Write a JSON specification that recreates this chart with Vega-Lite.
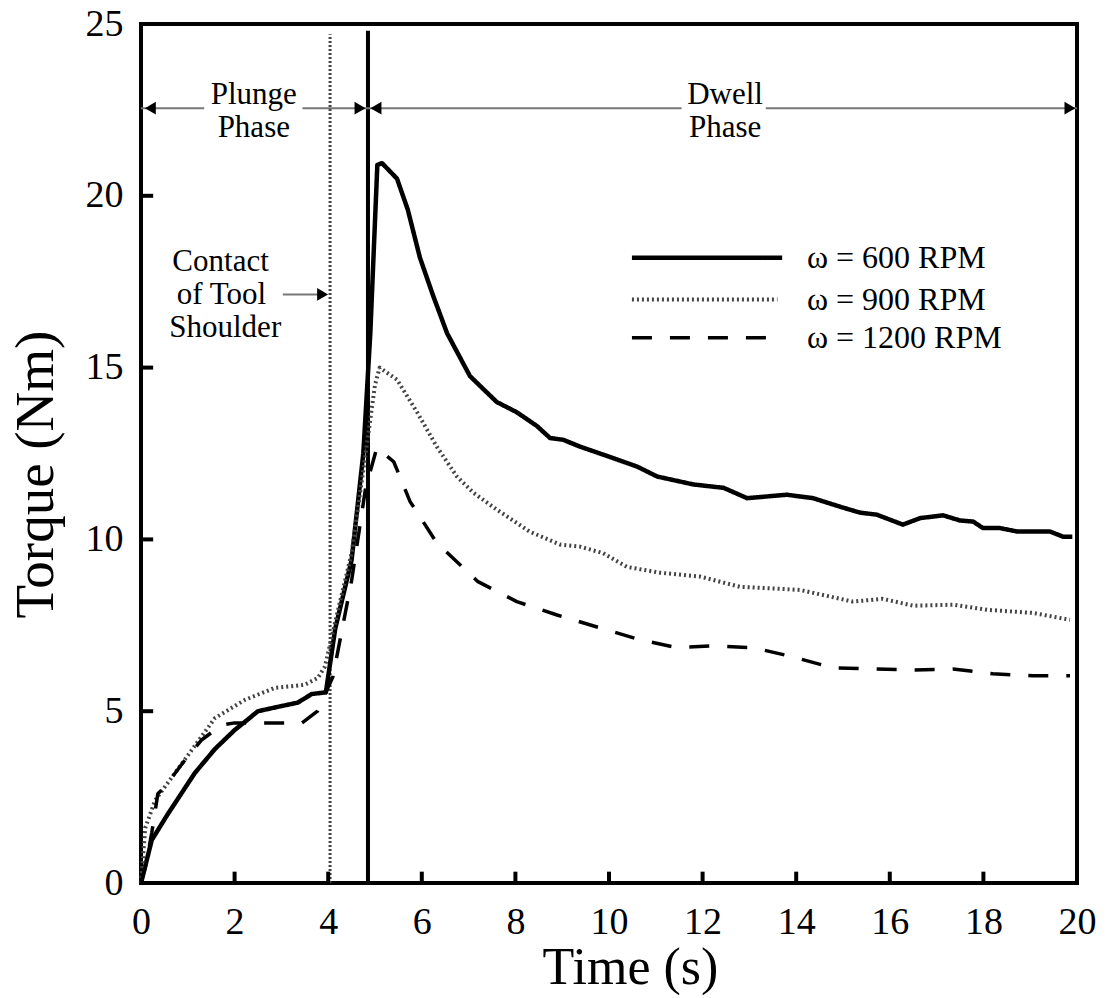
{
  "$schema": "https://vega.github.io/schema/vega-lite/v6.json",
  "width": 936,
  "height": 859,
  "autosize": {"type": "none"},
  "padding": {"left": 141, "top": 24, "right": 31, "bottom": 115},
  "background": "white",
  "config": {
    "view": {"stroke": "black", "strokeWidth": 4},
    "font": "Liberation Serif",
    "axis": {
      "labelFont": "Liberation Serif",
      "titleFont": "Liberation Serif",
      "labelColor": "black",
      "titleColor": "black",
      "titleFontWeight": "normal",
      "grid": false,
      "domain": false,
      "ticks": false,
      "labelFontSize": 38
    }
  },
  "datasets": {
    "curves": [
      {"s": "600", "t": 0, "v": 0}, {"s": "600", "t": 0.23, "v": 1.25}, {"s": "600", "t": 0.57, "v": 2.0}, {"s": "600", "t": 1.15, "v": 3.2}, {"s": "600", "t": 1.58, "v": 3.9}, {"s": "600", "t": 2.0, "v": 4.45}, {"s": "600", "t": 2.5, "v": 5.0}, {"s": "600", "t": 2.9, "v": 5.12}, {"s": "600", "t": 3.35, "v": 5.25}, {"s": "600", "t": 3.65, "v": 5.5}, {"s": "600", "t": 3.95, "v": 5.55}, {"s": "600", "t": 4.15, "v": 7.4}, {"s": "600", "t": 4.5, "v": 9.4}, {"s": "600", "t": 4.75, "v": 12.5}, {"s": "600", "t": 4.9, "v": 16.0}, {"s": "600", "t": 5.05, "v": 20.9}, {"s": "600", "t": 5.15, "v": 20.95}, {"s": "600", "t": 5.47, "v": 20.5}, {"s": "600", "t": 5.7, "v": 19.6}, {"s": "600", "t": 5.96, "v": 18.2}, {"s": "600", "t": 6.24, "v": 17.1}, {"s": "600", "t": 6.54, "v": 16.0}, {"s": "600", "t": 7.03, "v": 14.75}, {"s": "600", "t": 7.6, "v": 14.0}, {"s": "600", "t": 8.03, "v": 13.7}, {"s": "600", "t": 8.46, "v": 13.3}, {"s": "600", "t": 8.74, "v": 12.95}, {"s": "600", "t": 9.02, "v": 12.9}, {"s": "600", "t": 9.38, "v": 12.7}, {"s": "600", "t": 9.87, "v": 12.47}, {"s": "600", "t": 10.6, "v": 12.12}, {"s": "600", "t": 11.03, "v": 11.83}, {"s": "600", "t": 11.8, "v": 11.6}, {"s": "600", "t": 12.45, "v": 11.5}, {"s": "600", "t": 12.95, "v": 11.2}, {"s": "600", "t": 13.8, "v": 11.3}, {"s": "600", "t": 14.36, "v": 11.2}, {"s": "600", "t": 14.94, "v": 10.95}, {"s": "600", "t": 15.36, "v": 10.78}, {"s": "600", "t": 15.72, "v": 10.72}, {"s": "600", "t": 16.28, "v": 10.43}, {"s": "600", "t": 16.65, "v": 10.62}, {"s": "600", "t": 17.14, "v": 10.7}, {"s": "600", "t": 17.5, "v": 10.55}, {"s": "600", "t": 17.78, "v": 10.52}, {"s": "600", "t": 17.99, "v": 10.33}, {"s": "600", "t": 18.35, "v": 10.33}, {"s": "600", "t": 18.72, "v": 10.23}, {"s": "600", "t": 19.42, "v": 10.23}, {"s": "600", "t": 19.7, "v": 10.08}, {"s": "600", "t": 19.9, "v": 10.08},
      {"s": "900", "t": 0, "v": 0}, {"s": "900", "t": 0.09, "v": 1.6}, {"s": "900", "t": 0.3, "v": 2.4}, {"s": "900", "t": 0.51, "v": 2.8}, {"s": "900", "t": 0.94, "v": 3.6}, {"s": "900", "t": 1.58, "v": 4.8}, {"s": "900", "t": 2.22, "v": 5.33}, {"s": "900", "t": 2.86, "v": 5.68}, {"s": "900", "t": 3.5, "v": 5.77}, {"s": "900", "t": 3.78, "v": 5.97}, {"s": "900", "t": 3.93, "v": 6.3}, {"s": "900", "t": 4.15, "v": 7.6}, {"s": "900", "t": 4.5, "v": 9.6}, {"s": "900", "t": 4.8, "v": 12.5}, {"s": "900", "t": 5.0, "v": 14.5}, {"s": "900", "t": 5.1, "v": 15.0}, {"s": "900", "t": 5.47, "v": 14.65}, {"s": "900", "t": 5.9, "v": 13.7}, {"s": "900", "t": 6.32, "v": 12.7}, {"s": "900", "t": 6.75, "v": 11.83}, {"s": "900", "t": 7.1, "v": 11.36}, {"s": "900", "t": 7.6, "v": 10.87}, {"s": "900", "t": 8.3, "v": 10.23}, {"s": "900", "t": 8.95, "v": 9.85}, {"s": "900", "t": 9.38, "v": 9.79}, {"s": "900", "t": 9.87, "v": 9.6}, {"s": "900", "t": 10.38, "v": 9.2}, {"s": "900", "t": 11.09, "v": 9.03}, {"s": "900", "t": 11.94, "v": 8.92}, {"s": "900", "t": 12.8, "v": 8.62}, {"s": "900", "t": 14.08, "v": 8.53}, {"s": "900", "t": 15.21, "v": 8.19}, {"s": "900", "t": 15.85, "v": 8.27}, {"s": "900", "t": 16.5, "v": 8.07}, {"s": "900", "t": 17.35, "v": 8.1}, {"s": "900", "t": 18.08, "v": 7.95}, {"s": "900", "t": 19.06, "v": 7.86}, {"s": "900", "t": 19.85, "v": 7.66},
      {"s": "1200", "t": 0, "v": 0}, {"s": "1200", "t": 0.1, "v": 0.5}, {"s": "1200", "t": 0.23, "v": 1.46}, {"s": "1200", "t": 0.36, "v": 2.6}, {"s": "1200", "t": 0.51, "v": 2.8}, {"s": "1200", "t": 0.94, "v": 3.58}, {"s": "1200", "t": 1.3, "v": 4.17}, {"s": "1200", "t": 1.73, "v": 4.6}, {"s": "1200", "t": 2.0, "v": 4.66}, {"s": "1200", "t": 2.7, "v": 4.66}, {"s": "1200", "t": 3.44, "v": 4.66}, {"s": "1200", "t": 3.77, "v": 5.0}, {"s": "1200", "t": 4.1, "v": 6.0}, {"s": "1200", "t": 4.5, "v": 8.8}, {"s": "1200", "t": 4.8, "v": 11.5}, {"s": "1200", "t": 5.04, "v": 12.67}, {"s": "1200", "t": 5.4, "v": 12.26}, {"s": "1200", "t": 5.75, "v": 11.1}, {"s": "1200", "t": 6.32, "v": 9.9}, {"s": "1200", "t": 7.2, "v": 8.77}, {"s": "1200", "t": 8.03, "v": 8.19}, {"s": "1200", "t": 8.89, "v": 7.8}, {"s": "1200", "t": 9.8, "v": 7.43}, {"s": "1200", "t": 10.66, "v": 7.08}, {"s": "1200", "t": 11.45, "v": 6.85}, {"s": "1200", "t": 12.16, "v": 6.9}, {"s": "1200", "t": 13.08, "v": 6.85}, {"s": "1200", "t": 13.93, "v": 6.58}, {"s": "1200", "t": 14.79, "v": 6.26}, {"s": "1200", "t": 15.64, "v": 6.23}, {"s": "1200", "t": 16.5, "v": 6.2}, {"s": "1200", "t": 17.35, "v": 6.23}, {"s": "1200", "t": 18.2, "v": 6.09}, {"s": "1200", "t": 19.06, "v": 6.03}, {"s": "1200", "t": 19.85, "v": 6.03}
    ],
    "legend": [
      {"s": "600", "x": 10.49, "x2": 13.7, "tx": 14.23, "y": 18.2, "label": "ω = 600 RPM"},
      {"s": "900", "x": 10.49, "x2": 13.6, "tx": 14.23, "y": 16.98, "label": "ω = 900 RPM"},
      {"s": "1200", "x": 10.49, "x2": 13.48, "tx": 14.23, "y": 15.87, "label": "ω = 1200 RPM"}
    ],
    "segments": [
      {"x": 0, "x2": 1.35, "y": 22.55},
      {"x": 3.45, "x2": 4.85, "y": 22.55},
      {"x": 4.85, "x2": 11.55, "y": 22.55},
      {"x": 13.35, "x2": 20, "y": 22.55},
      {"x": 3.03, "x2": 3.95, "y": 17.13}
    ],
    "heads": [
      {"x": 0.2, "y": 22.55, "dir": "left"},
      {"x": 4.68, "y": 22.55, "dir": "right"},
      {"x": 5.02, "y": 22.55, "dir": "left"},
      {"x": 19.85, "y": 22.55, "dir": "right"},
      {"x": 3.88, "y": 17.13, "dir": "right"}
    ],
    "notes": [
      {"x": 2.41, "y": 22.66, "label": "Plunge"},
      {"x": 2.41, "y": 21.7, "label": "Phase"},
      {"x": 12.48, "y": 22.66, "label": "Dwell"},
      {"x": 12.48, "y": 21.7, "label": "Phase"},
      {"x": 1.7, "y": 17.8, "label": "Contact"},
      {"x": 1.72, "y": 16.84, "label": "of Tool"},
      {"x": 1.8, "y": 15.88, "label": "Shoulder"}
    ],
    "vlines": [
      {"kind": "contact", "x": 4.04, "y": 0, "y2": 24.7},
      {"kind": "dwell", "x": 4.85, "y": 0, "y2": 24.8}
    ],
    "xticks": [
      {"t": 2, "y": 0, "y2": 0.33}, {"t": 4, "y": 0, "y2": 0.33}, {"t": 6, "y": 0, "y2": 0.33}, {"t": 8, "y": 0, "y2": 0.33}, {"t": 10, "y": 0, "y2": 0.33}, {"t": 12, "y": 0, "y2": 0.33}, {"t": 14, "y": 0, "y2": 0.33}, {"t": 16, "y": 0, "y2": 0.33}, {"t": 18, "y": 0, "y2": 0.33}
    ],
    "yticks": [
      {"v": 5, "x": 0, "x2": 0.26}, {"v": 10, "x": 0, "x2": 0.26}, {"v": 15, "x": 0, "x2": 0.26}, {"v": 20, "x": 0, "x2": 0.26}
    ]
  },
  "layer": [
    {
      "data": {"name": "vlines"},
      "transform": [{"filter": "datum.kind === 'contact'"}],
      "mark": {"type": "rule", "stroke": "#444", "strokeWidth": 3, "strokeDash": [2, 2]},
      "encoding": {
        "x": {"field": "x", "type": "quantitative", "scale": {"domain": [0, 20], "nice": false},
          "axis": {"values": [0, 2, 4, 6, 8, 10, 12, 14, 16, 18, 20], "title": "Time (s)", "titleFontSize": 52, "labelPadding": 20, "titleX": 489, "titleY": 84, "titleBaseline": "middle", "labelFlush": false}},
        "y": {"field": "y", "type": "quantitative", "scale": {"domain": [0, 25], "nice": false},
          "axis": {"values": [0, 5, 10, 15, 20, 25], "title": "Torque (Nm)", "titleFontSize": 55, "labelPadding": 18, "titleX": -106, "titleY": 450, "titleBaseline": "middle", "titleAlign": "center", "labelFlush": false}},
        "y2": {"field": "y2"}
      }
    },
    {
      "data": {"name": "vlines"},
      "transform": [{"filter": "datum.kind === 'dwell'"}],
      "mark": {"type": "rule", "stroke": "black", "strokeWidth": 4},
      "encoding": {
        "x": {"field": "x", "type": "quantitative"},
        "y": {"field": "y", "type": "quantitative"},
        "y2": {"field": "y2"}
      }
    },
    {
      "data": {"name": "xticks"},
      "mark": {"type": "rule", "stroke": "black", "strokeWidth": 4},
      "encoding": {
        "x": {"field": "t", "type": "quantitative"},
        "y": {"field": "y", "type": "quantitative"},
        "y2": {"field": "y2"}
      }
    },
    {
      "data": {"name": "yticks"},
      "mark": {"type": "rule", "stroke": "black", "strokeWidth": 4},
      "encoding": {
        "y": {"field": "v", "type": "quantitative"},
        "x": {"field": "x", "type": "quantitative"},
        "x2": {"field": "x2"}
      }
    },
    {
      "data": {"name": "curves"},
      "mark": {"type": "line", "strokeJoin": "round"},
      "encoding": {
        "x": {"field": "t", "type": "quantitative"},
        "y": {"field": "v", "type": "quantitative"},
        "detail": {"field": "s"},
        "order": {"field": "t", "type": "quantitative"},
        "strokeDash": {"field": "s", "type": "nominal", "scale": {"domain": ["600", "900", "1200"], "range": [[1, 0], [2, 3], [20, 18]]}, "legend": null},
        "strokeWidth": {"field": "s", "type": "nominal", "scale": {"domain": ["600", "900", "1200"], "range": [4.5, 3.5, 5]}, "legend": null},
        "color": {"field": "s", "type": "nominal", "scale": {"domain": ["600", "900", "1200"], "range": ["black", "#444", "black"]}, "legend": null}
      }
    },
    {
      "data": {"name": "legend"},
      "mark": {"type": "rule"},
      "encoding": {
        "x": {"field": "x", "type": "quantitative"},
        "x2": {"field": "x2"},
        "y": {"field": "y", "type": "quantitative"},
        "strokeDash": {"field": "s", "type": "nominal", "scale": {"domain": ["600", "900", "1200"], "range": [[1, 0], [2, 3], [20, 18]]}, "legend": null},
        "strokeWidth": {"field": "s", "type": "nominal", "scale": {"domain": ["600", "900", "1200"], "range": [4.5, 3.5, 5]}, "legend": null},
        "color": {"field": "s", "type": "nominal", "scale": {"domain": ["600", "900", "1200"], "range": ["black", "#444", "black"]}, "legend": null}
      }
    },
    {
      "data": {"name": "legend"},
      "mark": {"type": "text", "align": "left", "baseline": "middle", "fontSize": 32, "font": "Liberation Serif", "color": "black"},
      "encoding": {
        "x": {"field": "tx", "type": "quantitative"},
        "y": {"field": "y", "type": "quantitative"},
        "text": {"field": "label"}
      }
    },
    {
      "data": {"name": "segments"},
      "mark": {"type": "rule", "stroke": "#777", "strokeWidth": 2},
      "encoding": {
        "x": {"field": "x", "type": "quantitative"},
        "x2": {"field": "x2"},
        "y": {"field": "y", "type": "quantitative"}
      }
    },
    {
      "data": {"name": "heads"},
      "mark": {"type": "point", "filled": true, "opacity": 1, "size": 160, "color": "black"},
      "encoding": {
        "x": {"field": "x", "type": "quantitative"},
        "y": {"field": "y", "type": "quantitative"},
        "shape": {"field": "dir", "type": "nominal", "scale": {"domain": ["left", "right"], "range": ["triangle-left", "triangle-right"]}, "legend": null}
      }
    },
    {
      "data": {"name": "notes"},
      "mark": {"type": "text", "align": "center", "baseline": "alphabetic", "fontSize": 31, "font": "Liberation Serif", "color": "black"},
      "encoding": {
        "x": {"field": "x", "type": "quantitative"},
        "y": {"field": "y", "type": "quantitative"},
        "text": {"field": "label"}
      }
    }
  ]
}
